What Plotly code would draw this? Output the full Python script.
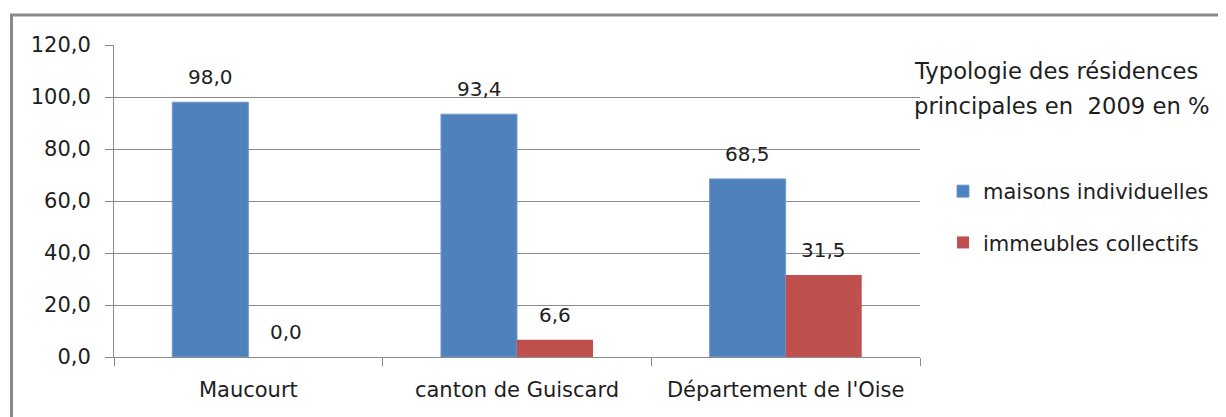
import plotly.graph_objects as go

categories = ["Maucourt", "canton de Guiscard", "Département de l'Oise"]
maisons = [98.0, 93.4, 68.5]
immeubles = [0.0, 6.6, 31.5]
series_names = ["maisons individuelles", "immeubles collectifs"]
title_lines = ["Typologie des résidences", "principales en  2009 en %"]
y_ticks = [0, 20, 40, 60, 80, 100, 120]

FONT = "DejaVu Sans"
TXT = "#1e1e1e"
GRID = "#8a8a8a"
OFF = 8  # page body margin
W, H = 1226 - OFF, 417 - OFF
L = 114 - OFF
T = 45 - OFF
pw, ph = 806, 312
R = W - L - pw
B = H - T - ph


def px_x(p):
    return (p - OFF - L) / pw


def px_y(p):
    return (T + ph - (p - OFF)) / ph


fig = go.Figure()
fig.add_trace(go.Bar(x=categories, y=maisons, name=series_names[0],
                     marker=dict(color="#4F81BD", line=dict(color="#7199CC", width=1)),
                     legendgroup="a"))
fig.add_trace(go.Bar(x=categories, y=immeubles, name=series_names[1],
                     marker=dict(color="#C0504D", line=dict(width=0)),
                     legendgroup="b"))

annotations = []
for vals, shift in ((maisons, -38), (immeubles, 38)):
    for c, v in zip(categories, vals):
        annotations.append(dict(x=c, y=v, xref="x", yref="y", xshift=shift, yshift=25,
                                text=f"{v:.1f}".replace(".", ","), showarrow=False,
                                yanchor="middle", font=dict(family=FONT, size=20, color=TXT)))
annotations.append(dict(x=px_x(912), y=px_y(71), xref="paper", yref="paper", xanchor="left",
                        yanchor="middle", text=title_lines[0], showarrow=False,
                        font=dict(family=FONT, size=22.7, color=TXT)))
annotations.append(dict(x=px_x(912), y=px_y(106), xref="paper", yref="paper", xanchor="left",
                        yanchor="middle", text=title_lines[1], showarrow=False,
                        font=dict(family=FONT, size=22.7, color=TXT)))

shapes = [
    dict(type="line", xref="paper", yref="paper", x0=px_x(10), x1=px_x(1240),
         y0=px_y(15), y1=px_y(15), line=dict(color=GRID, width=3)),
    dict(type="line", xref="paper", yref="paper", x0=px_x(11.5), x1=px_x(11.5),
         y0=px_y(14), y1=px_y(430), line=dict(color=GRID, width=3)),
]

fig.update_layout(
    width=W, height=H,
    margin=dict(l=L, r=R, t=T, b=B, pad=0, autoexpand=False),
    paper_bgcolor="white", plot_bgcolor="white",
    barmode="group", bargap=0.434, bargroupgap=0,
    separators=", ",
    font=dict(family=FONT, size=20, color=TXT),
    showlegend=True,
    legend=dict(x=px_x(943), y=px_y(171), xanchor="left", yanchor="top",
                font=dict(family=FONT, size=21, color=TXT),
                tracegroupgap=21, bgcolor="rgba(0,0,0,0)"),
    annotations=annotations,
    shapes=shapes,
)
fig.update_xaxes(type="category", showgrid=False, showline=True, linecolor=GRID,
                 linewidth=1, ticks="outside", tickson="boundaries", ticklen=8,
                 tickcolor=GRID, tickfont=dict(family=FONT, size=21, color=TXT),
                 ticklabelstandoff=14)
fig.update_yaxes(range=[0, 120], tickvals=y_ticks, tickformat=".1f", showgrid=True,
                 gridcolor=GRID, gridwidth=1, showline=True, linecolor=GRID,
                 linewidth=1, ticks="outside", ticklen=8, tickcolor=GRID,
                 zeroline=False, tickfont=dict(family=FONT, size=21, color=TXT),
                 ticklabelstandoff=10)

fig.write_html("out.html")
